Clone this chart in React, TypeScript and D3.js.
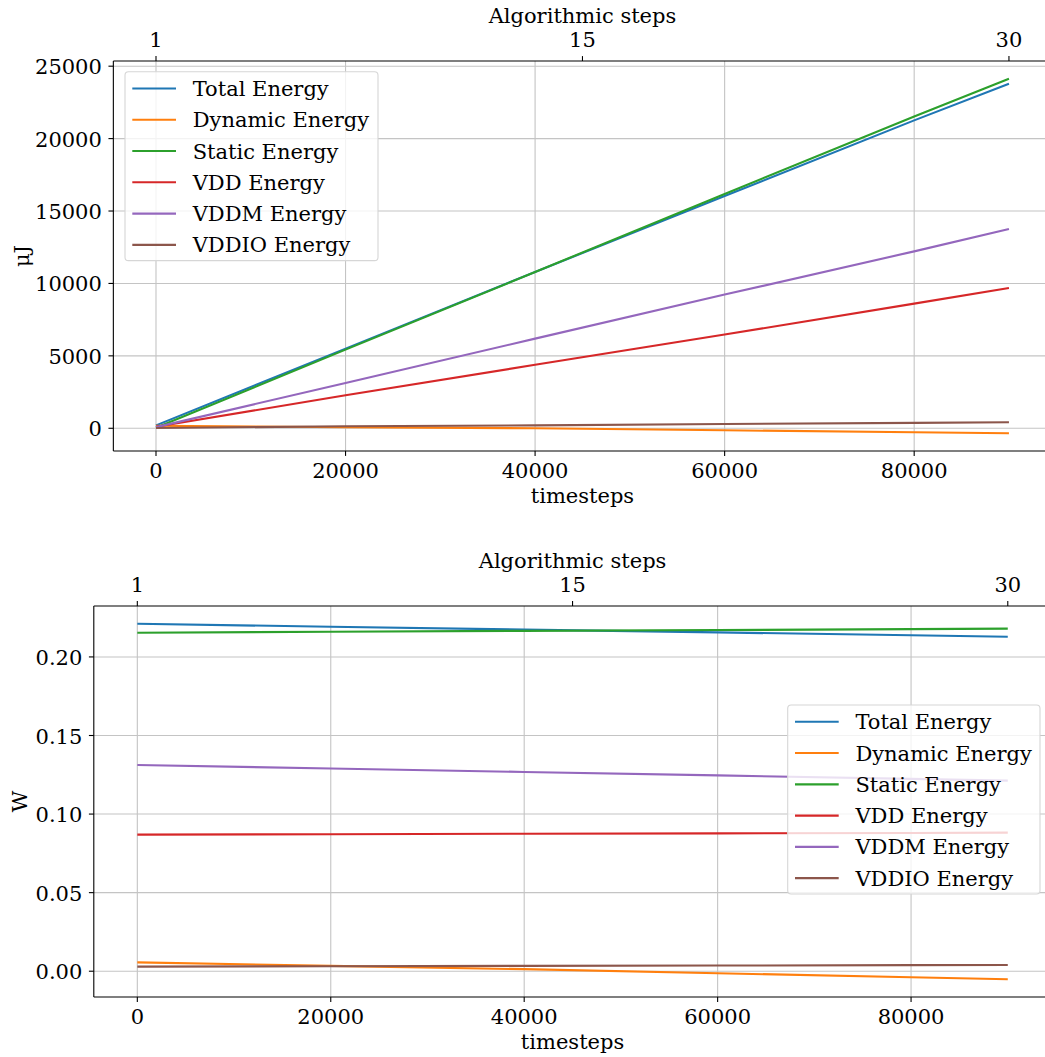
import React from "react";
import * as d3 from "d3";

// Simulation sampling points (timesteps) shared by both panels
const timesteps = [0, 20000, 40000, 60000, 80000, 90000];

// Cumulative energy per rail, in µJ
const energyTotal = [200, 5500, 10790, 16035, 21260, 23790];
const energyDynamic = [170, 70, 0, -140, -270, -345];
const energyStatic = [30, 5430, 10790, 16175, 21530, 24134];
const energyVDD = [100, 2280, 4380, 6470, 8605, 9690];
const energyVDDM = [80, 3130, 6190, 9230, 12215, 13760];
const energyVDDIO = [20, 140, 200, 300, 370, 414];

// Average power per rail, in W
const powerTotal = [0.2211, 0.2192, 0.2174, 0.2156, 0.2138, 0.2128];
const powerDynamic = [0.0056, 0.0034, 0.0013, -0.0013, -0.0038, -0.0051];
const powerStatic = [0.2154, 0.216, 0.2166, 0.2171, 0.2177, 0.218];
const powerVDD = [0.0869, 0.0872, 0.0875, 0.0877, 0.088, 0.0882];
const powerVDDM = [0.1312, 0.129, 0.1268, 0.1246, 0.1224, 0.1213];
const powerVDDIO = [0.0029, 0.0032, 0.0034, 0.0036, 0.0039, 0.004];

const seriesNames = [
  "Total Energy",
  "Dynamic Energy",
  "Static Energy",
  "VDD Energy",
  "VDDM Energy",
  "VDDIO Energy",
];
const seriesColors = ["#1f77b4", "#ff7f0e", "#2ca02c", "#d62728", "#9467bd", "#8c564b"];

// Bottom axis ticks and the secondary "Algorithmic steps" axis
const timestepTicks = [0, 20000, 40000, 60000, 80000];
const algoStepLabels = ["1", "15", "30"];
const algoStepTimesteps = [0, 45000, 90000];

const energyTicks = [0, 5000, 10000, 15000, 20000, 25000];
const powerTicks = [0, 0.05, 0.1, 0.15, 0.2];

const FONT = "'DejaVu Serif', 'Liberation Serif', serif";
const FS = 21;
const TICK = 4.9;

type PanelProps = {
  id: string;
  series: number[][];
  left: number;
  right: number;
  top: number;
  bottom: number;
  yTicks: number[];
  yFormat: (v: number) => string;
  yLabel: string;
  yLabelX: number;
  legendX: number;
  legendY: number;
  legendW: number;
};

function withMargin(lo: number, hi: number): [number, number] {
  const pad = (hi - lo) * 0.05;
  return [lo - pad, hi + pad];
}

function Panel(p: PanelProps) {
  const xExt = d3.extent(timesteps) as [number, number];
  const x = d3.scaleLinear().domain(withMargin(xExt[0], xExt[1])).range([p.left, p.right]);
  const all = p.series.flat();
  const y = d3
    .scaleLinear()
    .domain(withMargin(d3.min(all) as number, d3.max(all) as number))
    .range([p.bottom, p.top]);
  const line = d3
    .line<number>()
    .x((_, i) => x(timesteps[i]))
    .y((v) => y(v));
  const cx = (p.left + p.right) / 2;
  const cy = (p.top + p.bottom) / 2;
  const rowH = 31.27;
  const legendH = 16.8 * 2 + rowH * 5 - 1;

  return (
    <g>
      <defs>
        <clipPath id={`clip-${p.id}`}>
          <rect x={p.left} y={p.top} width={p.right - p.left} height={p.bottom - p.top} />
        </clipPath>
      </defs>
      {/* grid */}
      <g stroke="#c4c4c4" strokeWidth={1.1}>
        {timestepTicks.map((t) => (
          <line key={`gx${t}`} x1={x(t)} x2={x(t)} y1={p.top} y2={p.bottom} />
        ))}
        {p.yTicks.map((t) => (
          <line key={`gy${t}`} x1={p.left} x2={p.right} y1={y(t)} y2={y(t)} />
        ))}
      </g>
      {/* series */}
      <g clipPath={`url(#clip-${p.id})`} fill="none" strokeWidth={2.1}>
        {p.series.map((s, i) => (
          <path key={i} d={line(s) as string} stroke={seriesColors[i]} />
        ))}
      </g>
      {/* spines */}
      <g stroke="#000" strokeWidth={1.1}>
        <line x1={p.left} x2={p.left} y1={p.top} y2={p.bottom} />
        <line x1={p.left} x2={p.right} y1={p.bottom} y2={p.bottom} />
        <line x1={p.left} x2={p.right} y1={p.top} y2={p.top} />
        <line x1={p.right} x2={p.right} y1={p.top} y2={p.bottom} />
      </g>
      <g fontFamily={FONT} fontSize={FS} fill="#000">
        {/* bottom axis */}
        {timestepTicks.map((t) => (
          <g key={`bx${t}`}>
            <line x1={x(t)} x2={x(t)} y1={p.bottom} y2={p.bottom + TICK} stroke="#000" strokeWidth={1.1} />
            <text x={x(t)} y={p.bottom + 27} textAnchor="middle">
              {String(t)}
            </text>
          </g>
        ))}
        <text x={cx} y={p.bottom + 52} textAnchor="middle">
          timesteps
        </text>
        {/* top axis */}
        {algoStepTimesteps.map((t, i) => (
          <g key={`tx${t}`}>
            <line x1={x(t)} x2={x(t)} y1={p.top} y2={p.top - TICK} stroke="#000" strokeWidth={1.1} />
            <text x={x(t)} y={p.top - 14.3} textAnchor="middle">
              {algoStepLabels[i]}
            </text>
          </g>
        ))}
        <text x={cx} y={p.top - 38.5} textAnchor="middle">
          Algorithmic steps
        </text>
        {/* left axis */}
        {p.yTicks.map((t) => (
          <g key={`ly${t}`}>
            <line x1={p.left} x2={p.left - TICK} y1={y(t)} y2={y(t)} stroke="#000" strokeWidth={1.1} />
            <text x={p.left - 11.5} y={y(t) + 8} textAnchor="end">
              {p.yFormat(t)}
            </text>
          </g>
        ))}
        <text transform={`translate(${p.yLabelX}, ${cy}) rotate(-90)`} textAnchor="middle">
          {p.yLabel}
        </text>
      </g>
      {/* legend */}
      <g fontFamily={FONT} fontSize={FS}>
        <rect
          x={p.legendX}
          y={p.legendY}
          width={p.legendW}
          height={legendH}
          rx={3.5}
          fill="#fff"
          fillOpacity={0.8}
          stroke="#d6d6d6"
          strokeWidth={1.1}
        />
        {seriesNames.map((name, i) => {
          const ly = p.legendY + 16.8 + i * rowH;
          return (
            <g key={name}>
              <line
                x1={p.legendX + 7.3}
                x2={p.legendX + 51}
                y1={ly}
                y2={ly}
                stroke={seriesColors[i]}
                strokeWidth={2.1}
              />
              <text x={p.legendX + 67.7} y={ly + 7.6} fill="#000">
                {name}
              </text>
            </g>
          );
        })}
      </g>
    </g>
  );
}

export default function App() {
  const energySeries = [energyTotal, energyDynamic, energyStatic, energyVDD, energyVDDM, energyVDDIO];
  const powerSeries = [powerTotal, powerDynamic, powerStatic, powerVDD, powerVDDM, powerVDDIO];
  return (
    <svg
      width={1045}
      height={1057}
      style={{ position: "absolute", left: 0, top: 0, background: "#fff" }}
    >
      <rect width={1045} height={1057} fill="#fff" />
      <Panel
        id="energy"
        series={energySeries}
        left={113.35}
        right={1051.6}
        top={61}
        bottom={451}
        yTicks={energyTicks}
        yFormat={(v) => String(v)}
        yLabel="μJ"
        yLabelX={28.5}
        legendX={125}
        legendY={71.7}
        legendW={253}
      />
      <Panel
        id="power"
        series={powerSeries}
        left={93.8}
        right={1051.3}
        top={606}
        bottom={997}
        yTicks={powerTicks}
        yFormat={(v) => d3.format(".2f")(v)}
        yLabel="W"
        yLabelX={27}
        legendX={787.7}
        legendY={705}
        legendW={252.3}
      />
    </svg>
  );
}
